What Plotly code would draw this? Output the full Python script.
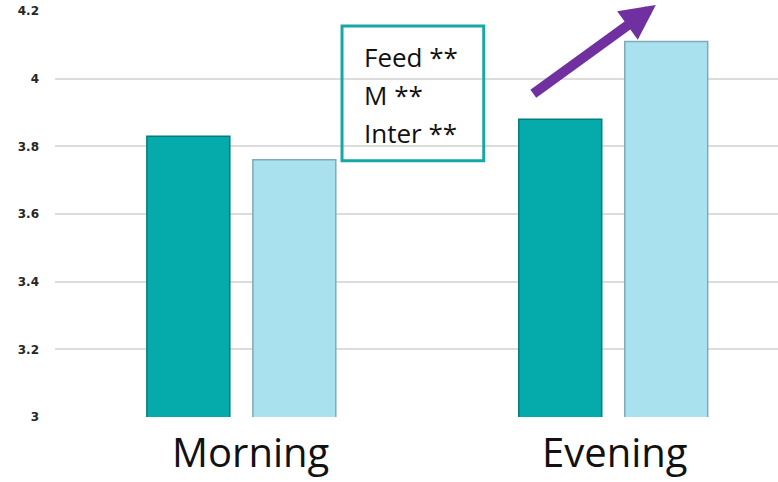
import plotly.graph_objects as go

# Mean scores by time of day for the two groups
categories = ["Morning", "Evening"]
group_a = [3.83, 3.88]   # teal bars
group_b = [3.76, 4.11]   # light blue bars

y_ticks = [3, 3.2, 3.4, 3.6, 3.8, 4, 4.2]
y_tick_text = ["3", "3.2", "3.4", "3.6", "3.8", "4", "4.2"]

effects = ["Feed **", "M **", "Inter **"]

TEAL = "#05ABAA"
LIGHT = "#A9E1EF"
BOX_EDGE = "#17A8A6"
PURPLE = "#7030A0"

fig = go.Figure()

fig.add_trace(go.Bar(
    x=categories, y=group_a,
    width=0.223, offset=-0.253,
    marker=dict(color=TEAL, line=dict(color="#047C7C", width=1.5)),
    showlegend=False,
))
fig.add_trace(go.Bar(
    x=categories, y=group_b,
    width=0.223, offset=0.032,
    marker=dict(color=LIGHT, line=dict(color="#7FAAB6", width=1.5)),
    showlegend=False,
))

# Category labels under each pair of bars
for cat, dx in zip(categories, [10, 2]):
    fig.add_annotation(xref="x", yref="paper", x=cat, y=0, yanchor="top",
                       xshift=dx, yshift=-6, text=cat, showarrow=False,
                       borderpad=0,
                       font=dict(family="Open Sans", size=40, color="#111111"))

# Text box listing the significant effects
fig.add_shape(type="rect", xref="paper", yref="paper",
              x0=0.397, x1=0.593, y0=0.631, y1=0.963,
              line=dict(color=BOX_EDGE, width=3), fillcolor="rgba(0,0,0,0)",
              layer="above")
for label, yp in zip(effects, [0.887, 0.793, 0.700]):
    fig.add_annotation(xref="paper", yref="paper", x=0.425, y=yp,
                       text=label, showarrow=False, xanchor="left", yanchor="middle",
                       font=dict(family="Open Sans", size=26, color="#111111"))

# Blank out the middle of the top gridline
fig.add_shape(type="rect", xref="paper", yref="paper",
              x0=(196 - 55) / 723, x1=(560 - 55) / 723, y0=0.99, y1=1.01,
              line=dict(width=0), fillcolor="white", layer="above")

# Upward trend arrow
fig.add_annotation(xref="paper", yref="paper", x=0.831, y=1.015,
                   ax=-124, ay=90, axref="pixel", ayref="pixel",
                   text="", showarrow=True, arrowhead=2, arrowsize=0.7,
                   arrowwidth=10, arrowcolor=PURPLE, standoff=0)

fig.update_layout(
    width=778, height=482,
    margin=dict(l=55, r=0, t=11, b=65),
    paper_bgcolor="white", plot_bgcolor="white",
    barmode="group",
    xaxis=dict(
        range=[-0.5, 1.444], showgrid=False, zeroline=False, showline=False,
        ticks="", showticklabels=False,
    ),
    yaxis=dict(
        range=[3, 4.2], tickvals=y_ticks, ticktext=y_tick_text,
        showgrid=True, gridcolor="#DCDCDC", gridwidth=1.5,
        zeroline=False, showline=False, ticks="",
        tickfont=dict(family="DejaVu Sans", size=12, color="#262626", weight="bold"),
        ticklabelstandoff=15,
    ),
)

fig.write_html("out.html")
